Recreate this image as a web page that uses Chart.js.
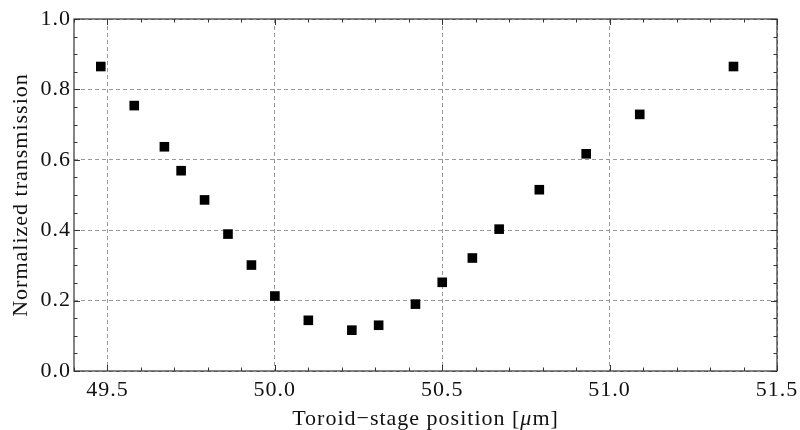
<!DOCTYPE html>
<html>
<head>
<meta charset="utf-8">
<script src="https://cdn.jsdelivr.net/npm/chart.js@4.4.0/dist/chart.umd.min.js"></script>
<style>
  html, body { margin: 0; padding: 0; background: #fff; }
  #wrap { width: 800px; height: 430px; }
</style>
</head>
<body>
<div id="wrap"><canvas id="transChart"></canvas></div>
<script>
// stage position (um) and normalized transmission
const positions = [49.48, 49.58, 49.67, 49.72, 49.79, 49.86, 49.93, 50.00, 50.10, 50.23,
                   50.31, 50.42, 50.50, 50.59, 50.67, 50.79, 50.93, 51.09, 51.37];
const transmission = [0.865, 0.754, 0.637, 0.569, 0.486, 0.389, 0.301, 0.213, 0.144, 0.116,
                      0.130, 0.190, 0.252, 0.321, 0.403, 0.515, 0.617, 0.729, 0.865];
const xTickLabels = ['49.5', '50.0', '50.5', '51.0', '51.5'];
const yTickLabels = ['0.0', '0.2', '0.4', '0.6', '0.8', '1.0'];

const FONT = "'Liberation Serif', 'DejaVu Serif', serif";

function xMajor(v) { return xTickLabels.indexOf(v.toFixed(1)) !== -1 && Math.abs(v * 2 - Math.round(v * 2)) < 1e-6; }
function yMajor(v) { return yTickLabels.indexOf(v.toFixed(1)) !== -1 && Math.abs(v * 5 - Math.round(v * 5)) < 1e-6; }

// the reference text is a bit looser than Liberation Serif
const spacing = {
  id: 'spacing',
  beforeLayout(chart) { chart.ctx.letterSpacing = '1px'; },
  beforeDraw(chart) { chart.ctx.letterSpacing = '1px'; }
};

// inward ticks on all four sides + frame, like a Mathematica plot
const frameTicks = {
  id: 'frameTicks',
  afterDraw(chart) {
    const { ctx, chartArea: a } = chart;
    const xs = chart.scales.x, ys = chart.scales.y;
    ctx.save();
    ctx.strokeStyle = '#333';
    ctx.lineWidth = 1;
    ctx.beginPath();
    xs.ticks.forEach(t => {
      const px = Math.round(xs.getPixelForValue(t.value)) + 0.5;
      const len = xMajor(t.value) ? 6 : 3.5;
      ctx.moveTo(px, a.bottom); ctx.lineTo(px, a.bottom - len);
      ctx.moveTo(px, a.top); ctx.lineTo(px, a.top + len);
    });
    ys.ticks.forEach(t => {
      const py = Math.round(ys.getPixelForValue(t.value)) + 0.5;
      const len = yMajor(t.value) ? 6 : 3.5;
      ctx.moveTo(a.left, py); ctx.lineTo(a.left + len, py);
      ctx.moveTo(a.right, py); ctx.lineTo(a.right - len, py);
    });
    ctx.stroke();
    ctx.lineWidth = 1.2;
    ctx.strokeRect(a.left, a.top, a.right - a.left, a.bottom - a.top);

    // x axis title, with an italic mu
    const parts = [['Toroid\u2212stage position [', ''], ['\u03bc', 'italic '], ['m]', '']];
    ctx.fillStyle = '#111';
    ctx.textBaseline = 'alphabetic';
    ctx.textAlign = 'left';
    ctx.letterSpacing = '1px';
    let total = 0;
    parts.forEach(p => { ctx.font = p[1] + '22px ' + FONT; total += ctx.measureText(p[0]).width; });
    let x = (a.left + a.right) / 2 - total / 2;
    parts.forEach(p => {
      ctx.font = p[1] + '22px ' + FONT;
      ctx.fillText(p[0], x, 425);
      x += ctx.measureText(p[0]).width;
    });
    ctx.restore();
  }
};

const ctx = document.getElementById('transChart');
new Chart(ctx, {
  type: 'scatter',
  data: {
    datasets: [{
      label: 'transmission',
      data: positions.map((p, i) => ({ x: p, y: transmission[i] })),
      backgroundColor: '#000',
      borderWidth: 0,
      pointStyle: 'rect',
      pointRadius: 6.8,
      pointHoverRadius: 6.8
    }]
  },
  options: {
    responsive: true,
    maintainAspectRatio: false,
    animation: false,
    layout: { padding: { top: 19, right: 23, left: 0, bottom: 0 } },
    plugins: { legend: { display: false }, tooltip: { enabled: false } },
    scales: {
      x: {
        type: 'linear',
        min: 49.4,
        max: 51.5,
        afterFit: (s) => { s.height = 59; s.paddingLeft = 0; s.paddingRight = 0; },
        ticks: {
          stepSize: 0.1,
          autoSkip: false,
          maxRotation: 0,
          padding: 6,
          color: '#111',
          font: { family: FONT, size: 22 },
          callback: (v) => xMajor(v) ? v.toFixed(1) : ''
        },
        grid: {
          drawTicks: false,
          color: (c) => c.tick && xMajor(c.tick.value) ? '#999' : 'rgba(0,0,0,0)',
          lineWidth: 1
        },
        border: { display: false, dash: [4, 3] },
        title: { display: false }
      },
      y: {
        type: 'linear',
        min: 0,
        max: 1,
        afterFit: (s) => { s.width = 74; s.paddingTop = 0; s.paddingBottom = 0; },
        ticks: {
          stepSize: 0.05,
          autoSkip: false,
          padding: 3,
          color: '#111',
          font: { family: FONT, size: 22 },
          callback: (v) => yMajor(v) ? v.toFixed(1) : ''
        },
        grid: {
          drawTicks: false,
          color: (c) => c.tick && yMajor(c.tick.value) ? '#999' : 'rgba(0,0,0,0)',
          lineWidth: 1
        },
        border: { display: false, dash: [4, 3] },
        title: {
          display: true,
          text: 'Normalized transmission',
          color: '#111',
          font: { family: FONT, size: 22 },
          padding: { top: 8, bottom: 0 }
        }
      }
    }
  },
  plugins: [spacing, frameTicks]
});
</script>
</body>
</html>
